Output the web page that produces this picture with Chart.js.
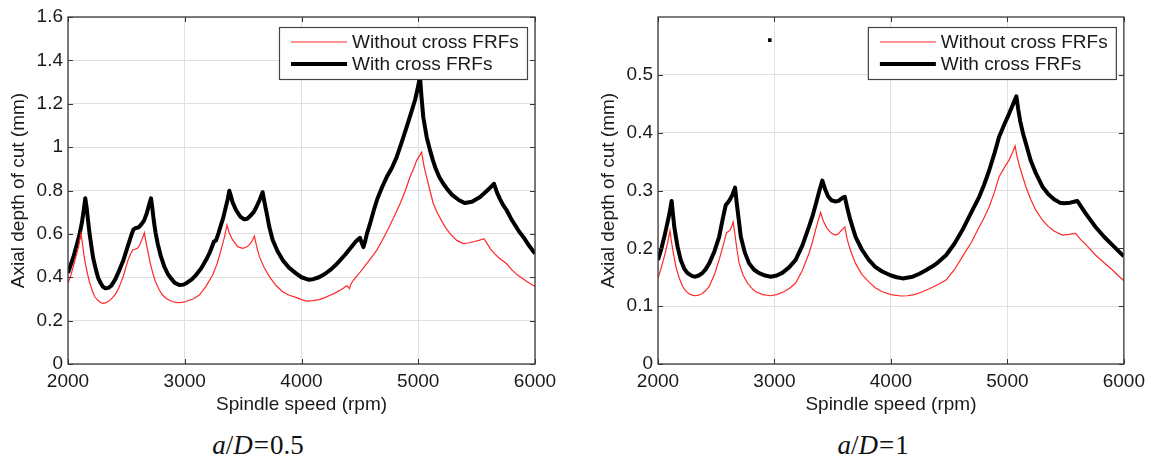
<!DOCTYPE html>
<html><head><meta charset="utf-8">
<script src="https://cdn.jsdelivr.net/npm/chart.js@4"></script>
<style>
body{margin:0;background:#fff;width:1151px;height:463px;overflow:hidden;position:relative;}
canvas{position:absolute;top:0;}
#c1{left:0}
#c2{left:590px}
.cap{position:absolute;top:430px;line-height:30px;font-family:"Liberation Serif","Times New Roman",serif;font-size:27px;color:#111;white-space:nowrap;transform:translateX(-50%);}
.cap .eq{margin:0 1px;}
</style></head>
<body>
<canvas id="c1" width="570" height="420"></canvas>
<canvas id="c2" width="561" height="420"></canvas>
<div class="cap" style="left:258px"><i>a</i>/<i>D</i><span class="eq">=</span>0.5</div>
<div class="cap" style="left:873px"><i>a</i>/<i>D</i><span class="eq">=</span>1</div>
<script>
// ---- data ----
const seriesNames = ["Without cross FRFs", "With cross FRFs"];
const xTickValues = [2000, 3000, 4000, 5000, 6000];
const leftYTicks = [0, 0.2, 0.4, 0.6, 0.8, 1, 1.2, 1.4, 1.6];
const rightYTicks = [0, 0.1, 0.2, 0.3, 0.4, 0.5];

// a/D = 0.5, without cross FRFs
const leftWithoutSpeed = [2000,2025,2050,2070,2090,2100,2111,2120,2130,2140,2154,2180,2211,2230,2254,2275,2297,2320,2350,2380,2411,2435,2460,2480,2497,2515,2530,2554,2575,2597,2615,2630,2645,2654,2665,2680,2695,2711,2745,2782,2810,2839,2890,2939,2975,3010,3070,3125,3180,3239,3280,3311,3340,3362,3380,3410,3453,3496,3525,3550,3575,3596,3615,3639,3680,3725,3780,3839,3895,3953,4000,4044,4100,4150,4200,4250,4290,4330,4360,4387,4400,4410,4425,4444,4490,4540,4590,4644,4690,4740,4790,4844,4890,4929,4960,4987,5029,5050,5072,5100,5129,5165,5200,5235,5272,5330,5386,5430,5480,5520,5563,5590,5620,5655,5690,5757,5800,5850,5930,6000];
const leftWithoutDepth = [0.373,0.41,0.46,0.5,0.54,0.57,0.602,0.57,0.53,0.49,0.449,0.385,0.333,0.31,0.295,0.285,0.28,0.282,0.29,0.305,0.326,0.35,0.385,0.415,0.449,0.48,0.50,0.526,0.529,0.535,0.55,0.57,0.59,0.605,0.57,0.53,0.49,0.449,0.385,0.341,0.318,0.303,0.288,0.283,0.284,0.288,0.30,0.318,0.357,0.41,0.467,0.526,0.585,0.641,0.605,0.572,0.541,0.533,0.538,0.548,0.565,0.59,0.545,0.495,0.445,0.403,0.363,0.333,0.317,0.307,0.297,0.29,0.292,0.297,0.306,0.318,0.328,0.34,0.35,0.361,0.355,0.347,0.37,0.386,0.415,0.45,0.485,0.524,0.568,0.62,0.675,0.739,0.8,0.862,0.9,0.939,0.977,0.91,0.862,0.8,0.739,0.695,0.66,0.628,0.601,0.57,0.555,0.558,0.565,0.57,0.578,0.555,0.53,0.508,0.49,0.462,0.435,0.41,0.38,0.358];
// a/D = 0.5, with cross FRFs
const leftWithSpeed = [2000,2025,2050,2075,2100,2120,2135,2148,2160,2172,2185,2197,2215,2240,2260,2283,2300,2320,2345,2370,2405,2440,2475,2511,2540,2560,2575,2605,2630,2650,2675,2695,2711,2722,2735,2750,2768,2795,2825,2855,2882,2915,2954,2990,3020,3060,3096,3140,3182,3215,3239,3250,3268,3290,3310,3330,3350,3368,3382,3395,3410,3439,3475,3510,3535,3560,3590,3615,3640,3667,3683,3700,3725,3753,3795,3839,3895,3953,4000,4058,4100,4150,4200,4250,4290,4330,4375,4420,4465,4501,4515,4530,4545,4560,4587,4620,4650,4690,4730,4775,4815,4860,4901,4940,4972,4995,5015,5028,5043,5072,5101,5125,5150,5180,5215,5250,5290,5350,5400,5460,5530,5600,5625,5649,5675,5700,5730,5757,5795,5830,5865,5900,5950,6000];
const leftWithDepth = [0.42,0.46,0.50,0.55,0.60,0.655,0.71,0.764,0.72,0.66,0.60,0.556,0.49,0.433,0.395,0.37,0.356,0.349,0.351,0.36,0.39,0.433,0.48,0.541,0.59,0.62,0.626,0.63,0.645,0.66,0.695,0.735,0.764,0.72,0.66,0.605,0.556,0.497,0.449,0.415,0.395,0.374,0.364,0.366,0.375,0.39,0.41,0.44,0.479,0.515,0.549,0.565,0.57,0.605,0.64,0.675,0.72,0.76,0.799,0.775,0.745,0.71,0.68,0.667,0.67,0.682,0.70,0.725,0.755,0.792,0.745,0.70,0.63,0.572,0.52,0.479,0.443,0.418,0.40,0.389,0.391,0.40,0.415,0.435,0.455,0.478,0.505,0.535,0.565,0.582,0.56,0.539,0.565,0.60,0.647,0.71,0.762,0.815,0.862,0.905,0.954,1.025,1.093,1.16,1.216,1.27,1.326,1.23,1.139,1.047,0.985,0.94,0.9,0.862,0.831,0.805,0.78,0.755,0.742,0.748,0.77,0.805,0.818,0.831,0.79,0.76,0.73,0.709,0.67,0.64,0.61,0.586,0.545,0.509];
// a/D = 1, without cross FRFs
const rightWithoutSpeed = [2000,2030,2060,2085,2103,2113,2125,2140,2154,2180,2211,2240,2268,2295,2320,2350,2380,2410,2440,2485,2525,2560,2588,2605,2620,2635,2645,2660,2678,2697,2730,2768,2800,2839,2900,2968,3020,3080,3130,3182,3240,3296,3325,3353,3375,3396,3420,3450,3490,3525,3550,3570,3590,3604,3625,3655,3696,3750,3810,3865,3925,4000,4087,4140,4200,4260,4330,4400,4473,4545,4615,4690,4758,4800,4844,4890,4929,4975,5015,5045,5066,5082,5100,5130,5158,5200,5244,5300,5350,5400,5471,5530,5586,5630,5680,5758,5830,5900,5950,6000];
const rightWithoutDepth = [0.148,0.168,0.19,0.212,0.2305,0.215,0.2,0.183,0.168,0.15,0.134,0.126,0.121,0.119,0.118,0.119,0.122,0.127,0.134,0.155,0.18,0.205,0.227,0.229,0.232,0.239,0.246,0.225,0.198,0.174,0.154,0.14,0.132,0.125,0.12,0.118,0.12,0.125,0.131,0.14,0.162,0.191,0.21,0.232,0.248,0.262,0.247,0.235,0.226,0.223,0.225,0.23,0.234,0.237,0.215,0.195,0.174,0.155,0.142,0.132,0.125,0.12,0.1176,0.118,0.12,0.124,0.13,0.137,0.145,0.163,0.186,0.21,0.237,0.253,0.272,0.298,0.324,0.34,0.353,0.366,0.377,0.36,0.345,0.325,0.307,0.285,0.266,0.249,0.238,0.23,0.223,0.224,0.226,0.215,0.205,0.188,0.175,0.163,0.153,0.144];
// a/D = 1, with cross FRFs
const rightWithSpeed = [2000,2030,2060,2085,2100,2117,2128,2140,2155,2168,2195,2225,2250,2270,2295,2320,2350,2380,2410,2440,2485,2525,2545,2560,2582,2600,2620,2640,2662,2675,2690,2711,2745,2782,2825,2868,2920,2968,3020,3070,3125,3182,3240,3296,3330,3360,3390,3411,3435,3460,3490,3525,3550,3570,3590,3604,3625,3650,3696,3750,3810,3865,3925,4000,4050,4101,4187,4245,4300,4350,4400,4473,4545,4615,4660,4700,4758,4800,4844,4890,4929,4975,5015,5050,5077,5093,5110,5135,5158,5200,5244,5300,5350,5400,5450,5486,5540,5580,5600,5640,5680,5720,5757,5830,5900,5950,6000];
const rightWithDepth = [0.18,0.20,0.225,0.248,0.262,0.282,0.26,0.237,0.218,0.203,0.18,0.165,0.158,0.155,0.152,0.151,0.153,0.157,0.164,0.174,0.195,0.22,0.24,0.255,0.275,0.279,0.285,0.293,0.305,0.28,0.255,0.22,0.193,0.174,0.163,0.157,0.153,0.151,0.153,0.158,0.167,0.18,0.205,0.237,0.258,0.28,0.303,0.317,0.302,0.29,0.283,0.281,0.282,0.285,0.288,0.289,0.27,0.25,0.22,0.198,0.18,0.168,0.16,0.153,0.15,0.148,0.151,0.156,0.162,0.168,0.175,0.188,0.208,0.232,0.25,0.266,0.289,0.31,0.335,0.365,0.393,0.415,0.433,0.45,0.463,0.44,0.42,0.398,0.382,0.352,0.33,0.307,0.294,0.285,0.279,0.278,0.279,0.281,0.282,0.27,0.258,0.247,0.237,0.22,0.206,0.196,0.186];
// stray marker in the a/D = 1 panel
const strayMarkerSpeed = [2960];
const strayMarkerDepth = [0.56];

// ---- helpers ----
const FONT = '"Liberation Sans", Arial, Helvetica, sans-serif';
const TXT = '#1a1a1a';
const FS = 19;
function pts(xs, ys){ return xs.map((x,i)=>({x:x, y:ys[i]})); }
function fmt(v){ const r = Math.round(v*10)/10; return String(r); }

const framePlugin = {
  id: 'frame',
  afterDatasetsDraw(chart, args, opts){
    const {ctx, chartArea:a, scales} = chart;
    ctx.save();
    ctx.strokeStyle = '#333'; ctx.lineWidth = 1;
    const L = 5;
    ctx.beginPath();
    opts.xTicks.forEach(v=>{
      const x = Math.round(scales.x.getPixelForValue(v))+0.5;
      ctx.moveTo(x,a.bottom); ctx.lineTo(x,a.bottom-L);
      ctx.moveTo(x,a.top); ctx.lineTo(x,a.top+L);
    });
    opts.yTicks.forEach(v=>{
      const y = Math.round(scales.y.getPixelForValue(v))+0.5;
      ctx.moveTo(a.left,y); ctx.lineTo(a.left+L,y);
      ctx.moveTo(a.right,y); ctx.lineTo(a.right-L,y);
    });
    ctx.stroke();
    ctx.strokeStyle = '#3a3a3a'; ctx.lineWidth = 1.3;
    ctx.strokeRect(a.left, a.top, a.right-a.left, a.bottom-a.top);
    // legend box
    const w = 248, h = 52;
    const bx = a.right - 8 - w, by = a.top + 10;
    ctx.fillStyle = '#fff';
    ctx.fillRect(bx, by, w, h);
    ctx.strokeStyle = '#444'; ctx.lineWidth = 1.2;
    ctx.strokeRect(bx+0.5, by+0.5, w, h);
    const ds = chart.data.datasets;
    [0,1].forEach(i=>{
      const yy = by + 15 + i*22;
      ctx.strokeStyle = ds[i].borderColor; ctx.lineWidth = ds[i].borderWidth;
      ctx.beginPath(); ctx.moveTo(bx+12, yy); ctx.lineTo(bx+68, yy); ctx.stroke();
      ctx.fillStyle = TXT; ctx.font = FS + 'px ' + FONT;
      ctx.textBaseline = 'middle'; ctx.textAlign = 'left';
      ctx.fillText(ds[i].label, bx+73, yy+1);
    });
    ctx.restore();
  }
};

function makeChart(id, cfg){
  const datasets = [
    {label: seriesNames[0], data: pts(cfg.wo[0], cfg.wo[1]), borderColor: 'rgb(255,40,40)', borderWidth: 1.2, pointRadius: 0, tension: 0, order: 1},
    {label: seriesNames[1], data: pts(cfg.w[0], cfg.w[1]), borderColor: '#000', borderWidth: 4, pointRadius: 0, tension: 0, order: 2, borderJoinStyle: 'round'}
  ];
  if (cfg.extra) datasets.push({label: 'marker', data: pts(cfg.extra[0], cfg.extra[1]), showLine: false, pointStyle: 'rect', pointRadius: 2.5, backgroundColor: '#000', borderColor: '#000', borderWidth: 0});
  return new Chart(document.getElementById(id), {
    type: 'line',
    data: {datasets},
    options: {
      responsive: false, animation: false, devicePixelRatio: 1,
      layout: {padding: {top: 17, right: cfg.padRight, left: 0, bottom: 0}},
      plugins: {legend: {display: false}, tooltip: {enabled: false},
        frame: {xTicks: xTickValues, yTicks: cfg.yTicks}},
      scales: {
        x: {type: 'linear', min: 2000, max: 6000,
          afterBuildTicks: s => { s.ticks = xTickValues.map(v=>({value:v})); },
          afterFit: s => { s.height = 56; },
          grid: {color: '#e0e0e0', drawTicks: false, lineWidth: 1},
          border: {display: false},
          ticks: {padding: 6, color: TXT, font: {family: FONT, size: FS}, callback: v => String(v), maxRotation: 0},
          title: {display: true, text: 'Spindle speed (rpm)', color: TXT, font: {family: FONT, size: FS}, padding: {top: 0, bottom: 4}}
        },
        y: {type: 'linear', min: 0, max: cfg.yMax,
          afterBuildTicks: s => { s.ticks = cfg.yTicks.map(v=>({value:v})); },
          afterFit: s => { s.width = 68; },
          grid: {color: '#e0e0e0', drawTicks: false, lineWidth: 1},
          border: {display: false},
          ticks: {padding: 5, color: TXT, font: {family: FONT, size: FS}, callback: v => fmt(v)},
          title: {display: true, text: 'Axial depth of cut (mm)', color: TXT, font: {family: FONT, size: FS}, padding: {top: 7, bottom: 0}}
        }
      }
    },
    plugins: [framePlugin]
  });
}

makeChart('c1', {wo: [leftWithoutSpeed, leftWithoutDepth], w: [leftWithSpeed, leftWithDepth], yTicks: leftYTicks, yMax: 1.6, padRight: 35});
makeChart('c2', {wo: [rightWithoutSpeed, rightWithoutDepth], w: [rightWithSpeed, rightWithDepth], yTicks: rightYTicks, yMax: 0.6, padRight: 26, extra: [strayMarkerSpeed, strayMarkerDepth]});
</script>
</body></html>
